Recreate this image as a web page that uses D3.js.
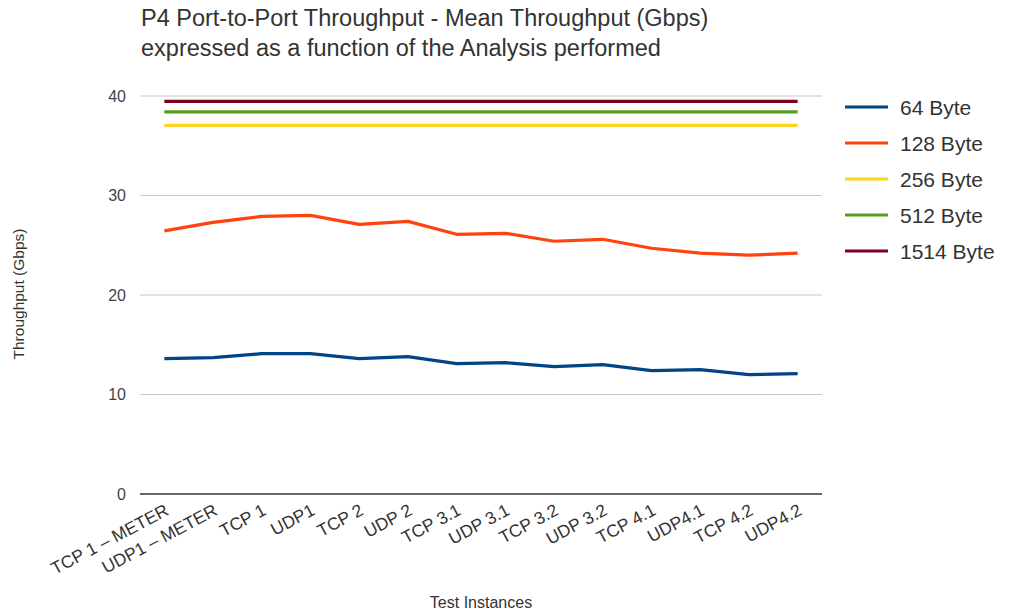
<!DOCTYPE html>
<html>
<head>
<meta charset="utf-8">
<script src="https://cdn.jsdelivr.net/npm/d3@7"></script>
<style>
  html, body { margin: 0; padding: 0; background: #fff; }
  svg { display: block; font-family: "Liberation Sans", Arial, sans-serif; }
</style>
</head>
<body>
<svg id="chart" width="1014" height="615"></svg>
<script>
// Test instances along the x axis
const categories = ["TCP 1 \u2013 METER", "UDP1 \u2013 METER", "TCP 1", "UDP1", "TCP 2", "UDP 2",
  "TCP 3.1", "UDP 3.1", "TCP 3.2", "UDP 3.2", "TCP 4.1", "UDP4.1", "TCP 4.2", "UDP4.2"];

// Mean throughput (Gbps) per packet size
const seriesNames = ["64 Byte", "128 Byte", "256 Byte", "512 Byte", "1514 Byte"];
const bytes64   = [13.6, 13.7, 14.1, 14.1, 13.6, 13.8, 13.1, 13.2, 12.8, 13.0, 12.4, 12.5, 12.0, 12.1];
const bytes128  = [26.45, 27.3, 27.9, 28.0, 27.1, 27.4, 26.1, 26.2, 25.4, 25.6, 24.7, 24.2, 24.0, 24.2];
const bytes256  = [37.05, 37.05, 37.05, 37.05, 37.05, 37.05, 37.05, 37.05, 37.05, 37.05, 37.05, 37.05, 37.05, 37.05];
const bytes512  = [38.4, 38.4, 38.4, 38.4, 38.4, 38.4, 38.4, 38.4, 38.4, 38.4, 38.4, 38.4, 38.4, 38.4];
const bytes1514 = [39.45, 39.45, 39.45, 39.45, 39.45, 39.45, 39.45, 39.45, 39.45, 39.45, 39.45, 39.45, 39.45, 39.45];
const yTicks = [0, 10, 20, 30, 40];

const seriesValues = [bytes64, bytes128, bytes256, bytes512, bytes1514];
const colors = ["#004586", "#ff420e", "#ffd320", "#579d1c", "#7e0021"];

const svg = d3.select("#chart");
const plotLeft = 140, plotRight = 822, plotTop = 96, plotBottom = 494;

const x = d3.scalePoint().domain(categories).range([plotLeft, plotRight]).padding(0.5);
const y = d3.scaleLinear().domain([0, 40]).range([plotBottom, plotTop]);

// Title
const title = svg.append("text").attr("x", 141).attr("y", 26)
  .attr("font-size", 23.5).attr("fill", "#333");
title.append("tspan").attr("x", 141).attr("dy", 0).text("P4 Port-to-Port Throughput - Mean Throughput (Gbps)");
title.append("tspan").attr("x", 141).attr("dy", 30).text("expressed as a function of the Analysis performed");

// Horizontal gridlines
svg.append("g").selectAll("line").data(yTicks.filter(d => d !== 0)).join("line")
  .attr("x1", plotLeft).attr("x2", plotRight)
  .attr("y1", d => y(d)).attr("y2", d => y(d))
  .attr("stroke", "#c8c8c8").attr("stroke-width", 1.2);

// Y axis tick labels
const yAxis = svg.append("g").attr("transform", `translate(${plotLeft - 14},0)`)
  .call(d3.axisLeft(y).tickValues(yTicks).tickSize(0).tickPadding(0));
yAxis.select(".domain").remove();
yAxis.selectAll("text").attr("font-size", 16).attr("fill", "#444")
  .attr("font-family", "Liberation Sans, Arial, sans-serif");

// Baseline
svg.append("line").attr("x1", plotLeft).attr("x2", plotRight)
  .attr("y1", y(0)).attr("y2", y(0)).attr("stroke", "#333").attr("stroke-width", 1.3);

// X axis labels, rotated
const xAxis = svg.append("g").attr("transform", `translate(0,${plotBottom})`)
  .call(d3.axisBottom(x).tickSize(0).tickPadding(0));
xAxis.select(".domain").remove();
xAxis.selectAll("text")
  .attr("font-size", 17.5).attr("fill", "#333")
  .attr("font-family", "Liberation Sans, Arial, sans-serif")
  .attr("text-anchor", "end")
  .attr("dy", 0)
  .attr("transform", "translate(5,20) rotate(-28)");

// Axis titles
svg.append("text").attr("transform", "translate(24,294) rotate(-90)")
  .attr("text-anchor", "middle").attr("font-size", 15.5).attr("fill", "#333")
  .text("Throughput (Gbps)");
svg.append("text").attr("x", 481).attr("y", 608)
  .attr("text-anchor", "middle").attr("font-size", 16).attr("fill", "#333")
  .text("Test Instances");

// Series lines
const line = d3.line().x((d, i) => x(categories[i])).y(d => y(d));
svg.append("g").selectAll("path").data(seriesValues).join("path")
  .attr("d", d => line(d))
  .attr("fill", "none")
  .attr("stroke", (d, i) => colors[i])
  .attr("stroke-width", 3.2)
  .attr("stroke-linejoin", "round");

// Legend
const legend = svg.append("g").selectAll("g").data(seriesNames).join("g")
  .attr("transform", (d, i) => `translate(845,${107 + i * 36})`);
legend.append("line").attr("x1", 0).attr("x2", 43)
  .attr("stroke", (d, i) => colors[i]).attr("stroke-width", 3.2);
legend.append("text").attr("x", 55).attr("y", 8)
  .attr("font-size", 21).attr("fill", "#333").text(d => d);
</script>
</body>
</html>
